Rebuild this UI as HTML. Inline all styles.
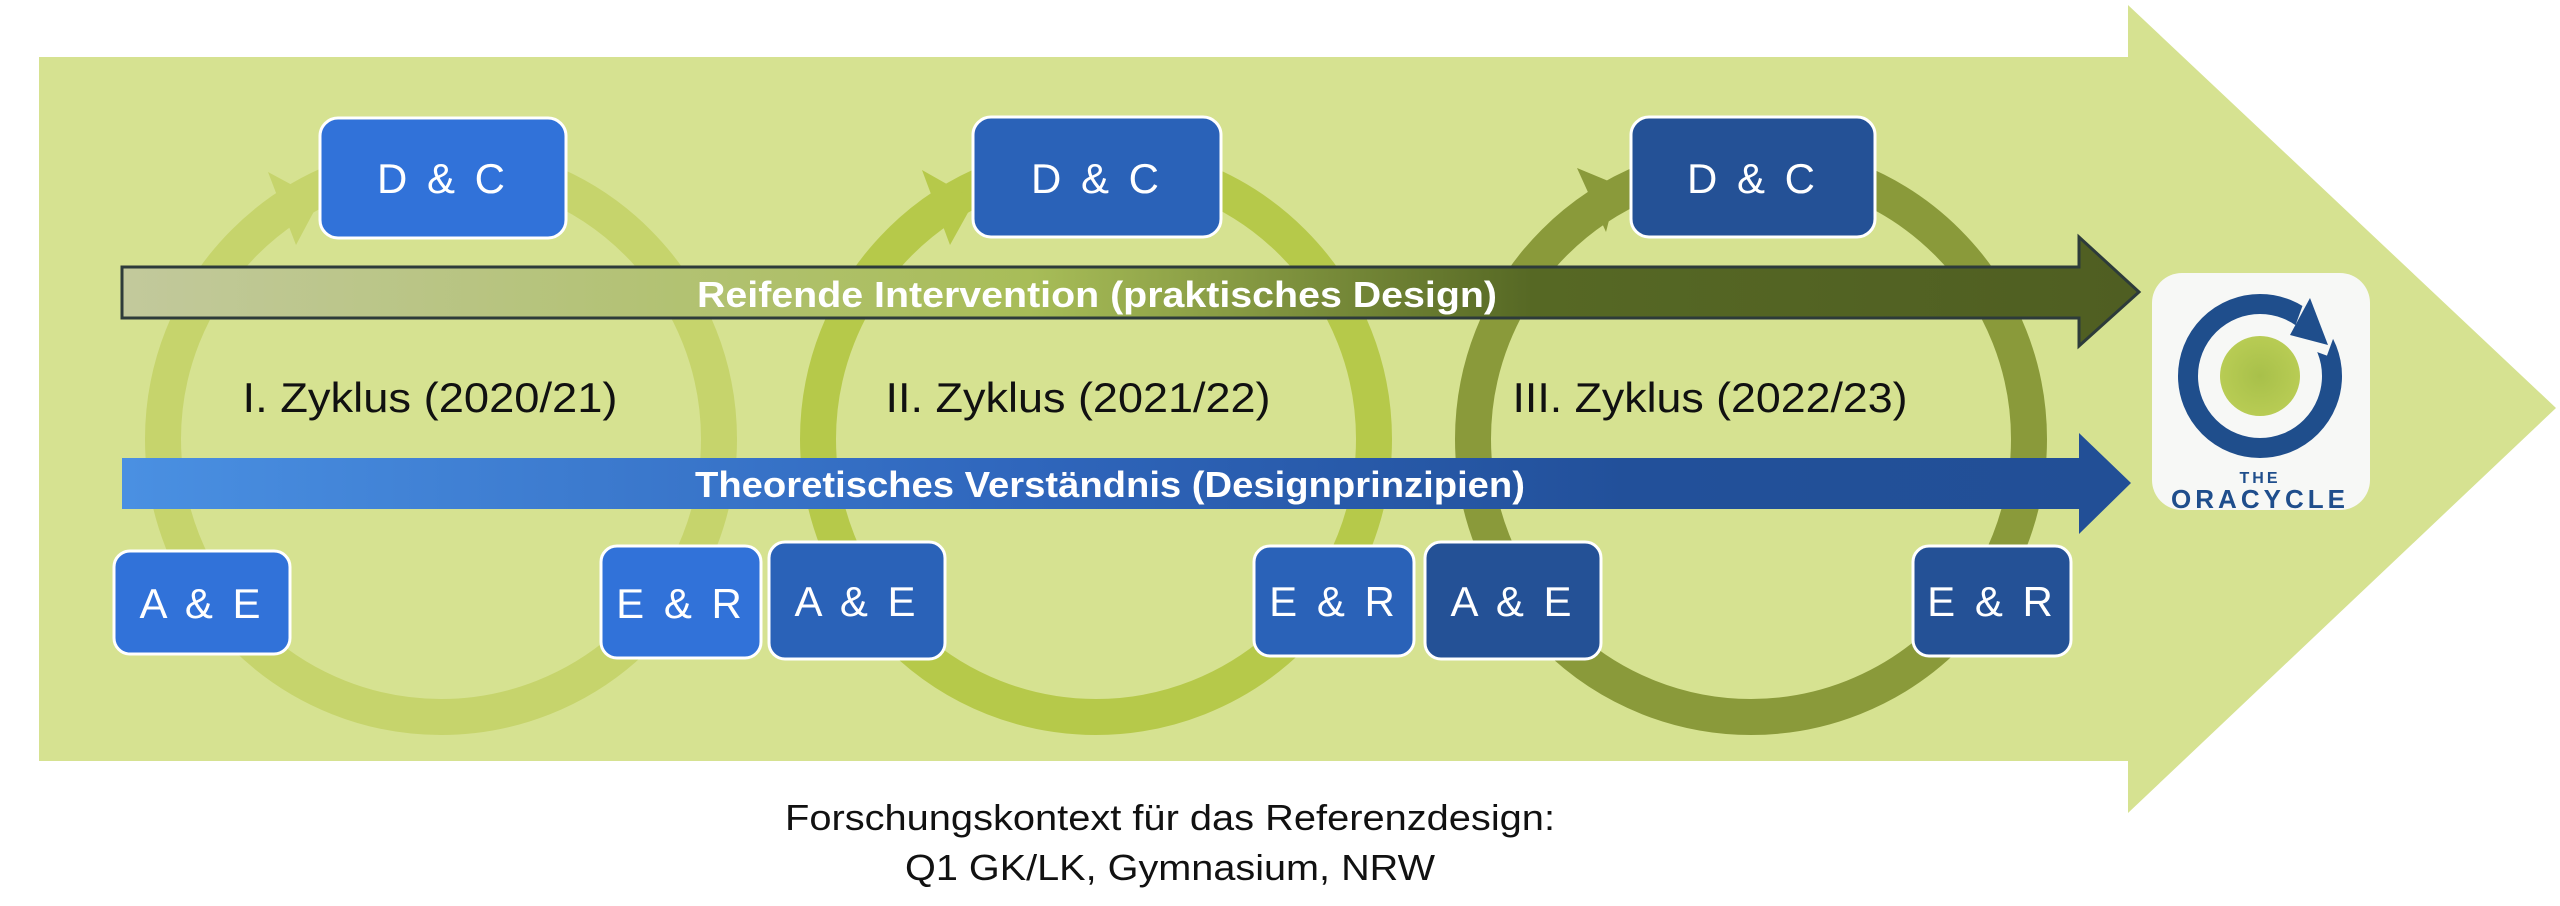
<!DOCTYPE html>
<html><head><meta charset="utf-8"><style>
html,body{margin:0;padding:0;background:#fff;}
svg{display:block;}
text{font-family:"Liberation Sans",sans-serif;}
</style></head><body>
<svg width="2560" height="906" viewBox="0 0 2560 906" xmlns="http://www.w3.org/2000/svg">
<defs>
<linearGradient id="gR" x1="0" x2="1" y1="0" y2="0">
<stop offset="0" stop-color="#c2c99c"/><stop offset="0.45" stop-color="#a8bd58"/><stop offset="0.7" stop-color="#566824"/><stop offset="1" stop-color="#4f5e22"/>
</linearGradient>
<linearGradient id="gT" x1="0" x2="1" y1="0" y2="0">
<stop offset="0" stop-color="#4a90e2"/><stop offset="0.45" stop-color="#2f66bc"/><stop offset="0.75" stop-color="#22509a"/><stop offset="1" stop-color="#224f96"/>
</linearGradient>
<radialGradient id="gG"><stop offset="0" stop-color="#a8c04a"/><stop offset="1" stop-color="#b8cc54"/></radialGradient>
</defs>
<!-- big arrow -->
<polygon points="39,57 2128,57 2128,5 2556,408 2128,813 2128,761 39,761" fill="#d6e291"/>
<!-- circles -->
<circle cx="441" cy="439" r="278" fill="none" stroke="#c6d46c" stroke-width="36"/>
<polygon points="268,172 320,200 296,245" fill="#c6d46c"/>
<circle cx="1096" cy="439" r="278" fill="none" stroke="#b6c94a" stroke-width="36"/>
<polygon points="922,170 975,200 950,245" fill="#b6c94a"/>
<circle cx="1751" cy="439" r="278" fill="none" stroke="#8a9a3a" stroke-width="36"/>
<polygon points="1577,168 1618,185 1606,232" fill="#8a9a3a"/>
<!-- Reifende arrow -->
<polygon points="122,267 2079,267 2079,237 2139,292 2079,346 2079,318 122,318" fill="url(#gR)" stroke="#2d3b3a" stroke-width="3"/>
<text x="1097" y="307" font-size="36" font-weight="bold" fill="#fff" text-anchor="middle" textLength="800" lengthAdjust="spacingAndGlyphs">Reifende Intervention (praktisches Design)</text>
<!-- Theoretisch arrow -->
<polygon points="122,458 2079,458 2079,433 2131,483 2079,534 2079,509 122,509" fill="url(#gT)"/>
<text x="1110" y="497" font-size="36" font-weight="bold" fill="#fff" text-anchor="middle" textLength="830" lengthAdjust="spacingAndGlyphs">Theoretisches Verständnis (Designprinzipien)</text>
<!-- cycle labels -->
<text x="430" y="412" font-size="42" fill="#111" text-anchor="middle" textLength="375" lengthAdjust="spacingAndGlyphs">I. Zyklus (2020/21)</text>
<text x="1078" y="412" font-size="42" fill="#111" text-anchor="middle" textLength="385" lengthAdjust="spacingAndGlyphs">II. Zyklus (2021/22)</text>
<text x="1710" y="412" font-size="42" fill="#111" text-anchor="middle" textLength="395" lengthAdjust="spacingAndGlyphs">III. Zyklus (2022/23)</text>
<!-- boxes -->
<g stroke="#fff" stroke-width="3" font-size="42" text-anchor="middle">
<rect x="320" y="118" width="246" height="120" rx="18" fill="#3172d9"/>
<rect x="973" y="117" width="248" height="120" rx="18" fill="#2a62b8"/>
<rect x="1631" y="117" width="244" height="120" rx="18" fill="#245196"/>
<rect x="114" y="551" width="176" height="103" rx="16" fill="#3172d9"/>
<rect x="601" y="546" width="160" height="112" rx="16" fill="#3172d9"/>
<rect x="769" y="542" width="176" height="117" rx="16" fill="#2a62b8"/>
<rect x="1254" y="546" width="160" height="110" rx="16" fill="#2a62b8"/>
<rect x="1425" y="542" width="176" height="117" rx="16" fill="#245196"/>
<rect x="1913" y="546" width="158" height="110" rx="16" fill="#245196"/>
</g>
<g fill="#fff" font-size="42" text-anchor="middle" letter-spacing="4">
<text x="443" y="193">D &amp; C</text>
<text x="1097" y="193">D &amp; C</text>
<text x="1753" y="193">D &amp; C</text>
<text x="202" y="618">A &amp; E</text>
<text x="681" y="618">E &amp; R</text>
<text x="857" y="616">A &amp; E</text>
<text x="1334" y="616">E &amp; R</text>
<text x="1513" y="616">A &amp; E</text>
<text x="1992" y="616">E &amp; R</text>
</g>
<!-- logo -->
<rect x="2152" y="273" width="218" height="237" rx="30" fill="#f7f8f6"/>
<circle cx="2260" cy="376" r="72" fill="none" stroke="#1f4e8c" stroke-width="20"/>
<rect x="2295" y="310" width="40" height="40" fill="#f7f8f6" transform="rotate(20 2315 330)"/>
<polygon points="2310,298 2328,345 2290,335" fill="#1f4e8c"/>
<circle cx="2260" cy="376" r="40" fill="url(#gG)"/>
<text x="2260" y="483" font-size="16" font-weight="bold" fill="#1f4e8c" text-anchor="middle" letter-spacing="3">THE</text>
<text x="2260" y="508" font-size="26" font-weight="bold" fill="#1f4e8c" text-anchor="middle" letter-spacing="4">ORACYCLE</text>
<!-- bottom text -->
<text x="1170" y="830" font-size="36" fill="#111" text-anchor="middle" textLength="770" lengthAdjust="spacingAndGlyphs">Forschungskontext für das Referenzdesign:</text>
<text x="1170" y="880" font-size="36" fill="#111" text-anchor="middle" textLength="530" lengthAdjust="spacingAndGlyphs">Q1 GK/LK, Gymnasium, NRW</text>
</svg>
</body></html>
